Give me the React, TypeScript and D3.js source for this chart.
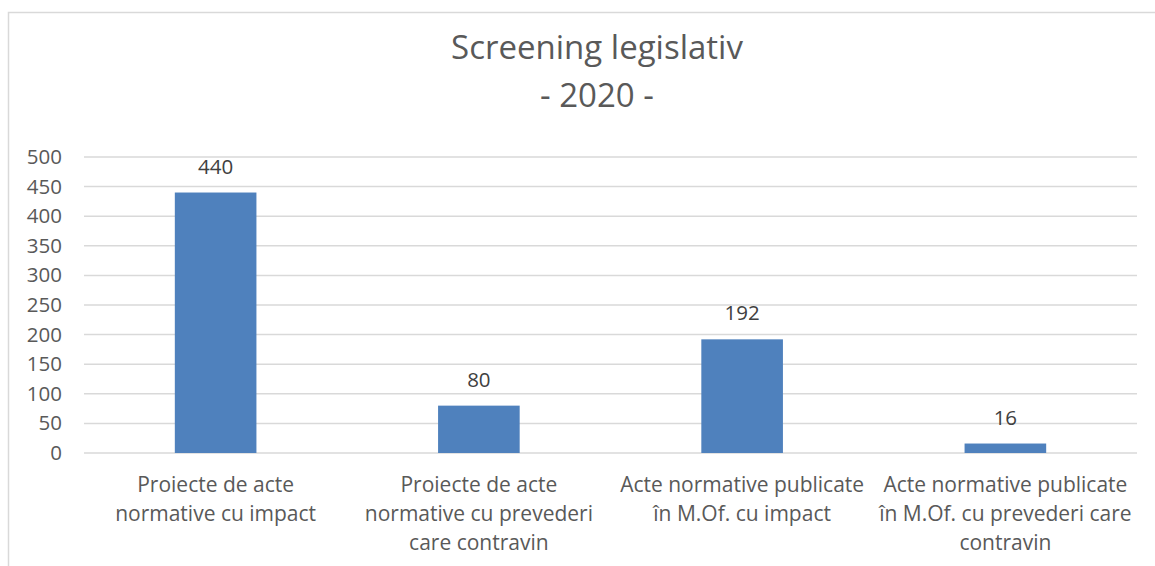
import React from "react";
import * as d3 from "d3";

const categories: string[][] = [
  ["Proiecte de acte", "normative cu impact"],
  ["Proiecte de acte", "normative cu prevederi", "care contravin"],
  ["Acte normative publicate", "în M.Of. cu impact"],
  ["Acte normative publicate", "în M.Of. cu prevederi care", "contravin"],
];
const values: number[] = [440, 80, 192, 16];
const yTicks: number[] = [0, 50, 100, 150, 200, 250, 300, 350, 400, 450, 500];
const titleLines: string[] = ["Screening legislativ", "- 2020 -"];

const W = 1155;
const H = 566;
const plotLeft = 84;
const plotRight = 1137;
const plotTop = 157;
const plotBottom = 453;
const FONT = "'Open Sans', 'Liberation Sans', sans-serif";
const TXT = "#595959";

export default function App() {
  const x = d3
    .scaleBand<number>()
    .domain(values.map((_, i) => i))
    .range([plotLeft, plotRight])
    .paddingInner(0.69)
    .paddingOuter(0.345);
  const y = d3.scaleLinear().domain([0, 500]).range([plotBottom, plotTop]);

  return (
    <svg
      width={W}
      height={H}
      style={{ position: "absolute", left: 0, top: 0, background: "#fff" }}
      fontFamily={FONT}
    >
      <rect x={8.5} y={12.5} width={W} height={H} fill="#fff" stroke="#d9d9d9" strokeWidth={1.5} />
      {titleLines.map((t, i) => (
        <text key={i} x={597} y={59 + i * 48} textAnchor="middle" fontSize={33} fill={TXT}>
          {t}
        </text>
      ))}
      {yTicks.map((t) => (
        <g key={t}>
          <line x1={plotLeft} x2={plotRight} y1={y(t)} y2={y(t)} stroke="#d9d9d9" strokeWidth={1.5} />
          <text x={62} y={y(t) + 7} textAnchor="end" fontSize={20.5} fill={TXT}>
            {t}
          </text>
        </g>
      ))}
      {values.map((v, i) => (
        <g key={i}>
          <rect x={x(i)} y={y(v)} width={x.bandwidth()} height={y(0) - y(v)} fill="#4f81bd" />
          <text x={(x(i) as number) + x.bandwidth() / 2} y={y(v) - 19} textAnchor="middle" fontSize={20.5} fill="#404040">
            {v}
          </text>
        </g>
      ))}
      {categories.map((lines, i) => (
        <text key={i} textAnchor="middle" fontSize={21} fill={TXT}>
          {lines.map((l, j) => (
            <tspan key={j} x={(x(i) as number) + x.bandwidth() / 2} y={492 + j * 29}>
              {l}
            </tspan>
          ))}
        </text>
      ))}
    </svg>
  );
}
